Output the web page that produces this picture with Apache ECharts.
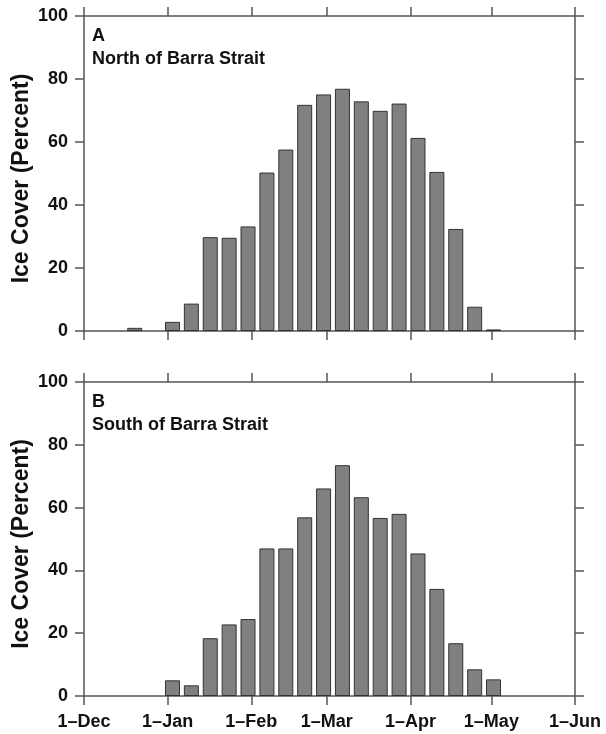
<!DOCTYPE html>
<html>
<head>
<meta charset="utf-8">
<script src="https://cdn.jsdelivr.net/npm/echarts@6/dist/echarts.min.js"></script>
<style>
html,body{margin:0;padding:0;background:#fff;}
#chart{width:606px;height:734px;}
</style>
</head>
<body>
<div id="chart"></div>
<script>
// Days counted from 1 Dec (non-leap winter)
const monthTickDays = [0, 31, 62, 90, 121, 151, 182];
const monthLabels = ['1\u2013Dec', '1\u2013Jan', '1\u2013Feb', '1\u2013Mar', '1\u2013Apr', '1\u2013May', '1\u2013Jun'];
const yTicks = [0, 20, 40, 60, 80, 100];
const weekCenterDays = [18.8, 25.8, 32.8, 39.8, 46.8, 53.8, 60.8, 67.8, 74.8, 81.8, 88.8, 95.8, 102.8, 109.8, 116.8, 123.8, 130.8, 137.8, 144.8, 151.8];
const northValues = [1.0, null, 2.9, 8.7, 29.8, 29.6, 33.2, 50.3, 57.6, 71.8, 75.1, 76.9, 72.9, 69.9, 72.2, 61.3, 50.5, 32.4, 7.7, 0.5];
const southValues = [null, null, 5.0, 3.4, 18.4, 22.8, 24.5, 47.0, 47.0, 56.9, 66.1, 73.5, 63.3, 56.7, 58.0, 45.4, 34.1, 16.8, 8.5, 5.3];
const panelLetters = ['A', 'B'];
const panelNames = ['North of Barra Strait', 'South of Barra Strait'];
const yTitle = 'Ice Cover (Percent)';

const FONT = '"Liberation Sans", Arial, Helvetica, sans-serif';
const AXIS_COLOR = '#555';
const chart = echarts.init(document.getElementById('chart'), null, {renderer: 'canvas'});

const grids = [
  {left: 84, right: 31, top: 16, height: 315},
  {left: 84, right: 31, top: 382, height: 314}
];

function lineStyle() { return {color: AXIS_COLOR, width: 1.5}; }

const xAxes = [], yAxes = [], series = [], graphics = [];
[northValues, southValues].forEach((vals, i) => {
  ['bottom', 'top'].forEach(pos => {
    xAxes.push({
      type: 'value', gridIndex: i, position: pos, min: 0, max: 182,
      axisLine: {show: true, onZero: false, lineStyle: lineStyle()},
      axisTick: {show: true, inside: false, length: 9, customValues: monthTickDays, lineStyle: lineStyle()},
      axisLabel: {
        show: (i === 1 && pos === 'bottom'), customValues: monthTickDays, margin: 17,
        fontFamily: FONT, fontWeight: 'bold', fontSize: 18, color: '#111',
        formatter: v => monthLabels[monthTickDays.indexOf(v)]
      },
      splitLine: {show: false}
    });
  });
  ['left', 'right'].forEach(pos => {
    yAxes.push({
      type: 'value', gridIndex: i, position: pos, min: yTicks[0], max: yTicks[yTicks.length - 1], interval: 20,
      axisLine: {show: true, onZero: false, lineStyle: lineStyle()},
      axisTick: {show: true, inside: false, length: 9, lineStyle: lineStyle()},
      axisLabel: {show: pos === 'left', margin: 16, fontFamily: FONT, fontWeight: 'bold', fontSize: 18, color: '#111'},
      splitLine: {show: false}
    });
  });
  series.push({
    type: 'bar', xAxisIndex: i * 2, yAxisIndex: i * 2, barWidth: 15,
    data: weekCenterDays.map((d, k) => [d, vals[k]]),
    itemStyle: {color: '#808080', borderColor: '#333', borderWidth: 1},
    silent: true, animation: false
  });
  const g = grids[i];
  graphics.push({
    type: 'text', left: 92, top: g.top + 9,
    style: {text: panelLetters[i] + '\n' + panelNames[i], font: 'bold 18px ' + FONT, fill: '#111', lineHeight: 23}
  });
  graphics.push({
    type: 'text', x: 22, y: g.top + g.height / 2 + 5, rotation: Math.PI / 2,
    style: {text: yTitle, font: 'bold 23px ' + FONT, fill: '#111', align: 'center', verticalAlign: 'middle'}
  });
});

chart.setOption({
  animation: false,
  backgroundColor: '#fff',
  grid: grids,
  xAxis: xAxes,
  yAxis: yAxes,
  series: series,
  graphic: graphics
});
</script>
</body>
</html>
